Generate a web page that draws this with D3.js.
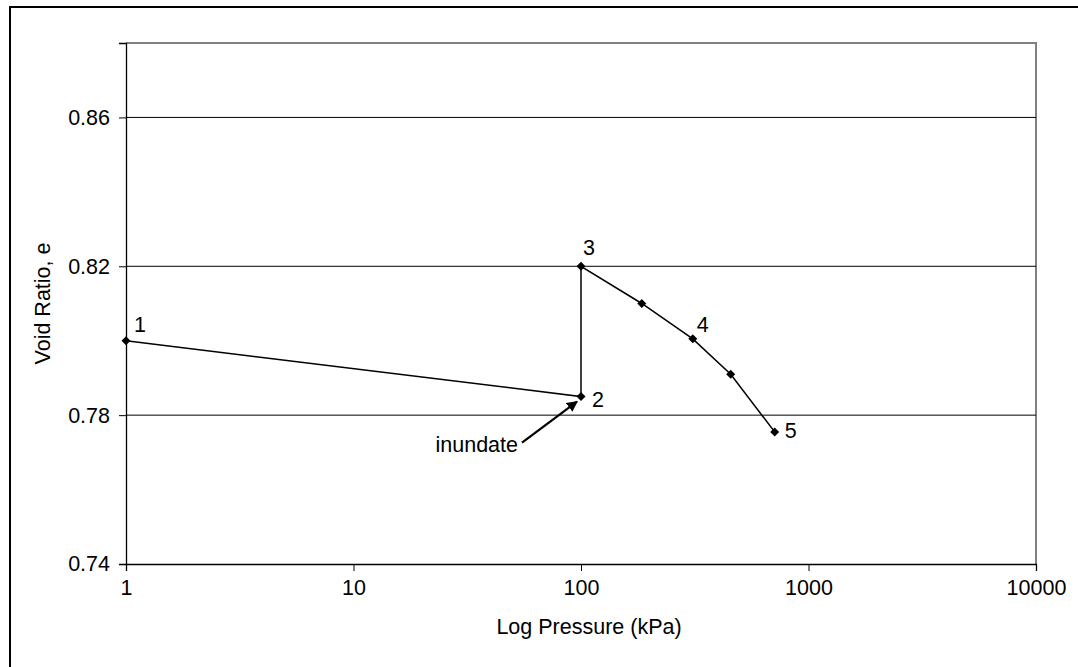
<!DOCTYPE html>
<html lang="en">

<head>
    <meta charset="UTF-8">
    <title>Void Ratio vs Log Pressure</title>
    <script type='text/javascript' src='https://d3js.org/d3.v7.min.js'></script>
    <style>
        body { margin: 0; background: #fff; }
        text { font-family: "Liberation Sans", Arial, sans-serif; fill: #000; }
    </style>
</head>

<body>
    <script>
        // data
        const pressure = [1, 100, 100, 185, 310, 455, 710];
        const voidRatio = [0.800, 0.785, 0.820, 0.810, 0.8005, 0.791, 0.7755];
        const pointLabels = ["1", "2", "3", "", "4", "", "5"];
        const xTicks = [1, 10, 100, 1000, 10000];
        const yTicks = [0.74, 0.78, 0.82, 0.86];

        const W = 1078, H = 667;
        const margin = { top: 43, right: 42, bottom: 103, left: 126 };
        const width = W - margin.left - margin.right;
        const height = H - margin.top - margin.bottom;
        const fs = "21.5px";

        var svg = d3.select('body').append("svg")
            .attr("width", W)
            .attr("height", H);

        // outer chart border (runs off the bottom/right)
        svg.append("rect")
            .attr("x", 10).attr("y", 7)
            .attr("width", W + 20).attr("height", H + 20)
            .attr("fill", "none").attr("stroke", "#000").attr("stroke-width", 2);

        var g = svg.append("g")
            .attr("transform", "translate(" + margin.left + "," + margin.top + ")");

        var x = d3.scaleLog().domain([1, 10000]).range([0, width]);
        var y = d3.scaleLinear().domain([0.74, 0.88]).range([height, 0]);

        // plot frame, top and right in gray
        g.append("path")
            .attr("d", "M0,0H" + width + "V" + height)
            .attr("fill", "none").attr("stroke", "#808080").attr("stroke-width", 2);

        // horizontal gridlines
        g.selectAll(".grid").data(yTicks.filter(function (d) { return d > 0.74; }))
            .enter().append("line")
            .attr("x1", 0).attr("x2", width)
            .attr("y1", function (d) { return y(d); })
            .attr("y2", function (d) { return y(d); })
            .attr("stroke", "#000").attr("stroke-width", 1);

        // X axis
        var xAxis = g.append("g")
            .attr("transform", "translate(0," + height + ")")
            .call(d3.axisBottom(x).tickValues(xTicks).tickFormat(d3.format("d")).tickSizeOuter(0).tickSize(7).tickPadding(9));

        // Y axis
        var yAxis = g.append("g")
            .call(d3.axisLeft(y).tickValues(yTicks).tickFormat(d3.format(".2f")).tickSizeOuter(0).tickSize(7).tickPadding(9));

        [xAxis, yAxis].forEach(function (a) {
            a.selectAll("text").style("font-size", fs).attr("font-family", null);
            a.selectAll("line").attr("stroke", "#000");
            a.select(".domain").attr("stroke", "#000").attr("stroke-width", 1.3);
        });

        // axis titles
        svg.append("text")
            .attr("x", margin.left + width / 2 + 8)
            .attr("y", 634)
            .attr("text-anchor", "middle")
            .style("font-size", fs)
            .text("Log Pressure (kPa)");

        svg.append("text")
            .attr("transform", "translate(50," + (margin.top + height / 2) + ") rotate(-90)")
            .attr("text-anchor", "middle")
            .style("font-size", fs)
            .text("Void Ratio, e");

        var pts = pressure.map(function (p, i) { return { p: p, e: voidRatio[i], label: pointLabels[i] }; });

        // the line
        var line = d3.line()
            .x(function (d) { return x(d.p); })
            .y(function (d) { return y(d.e); });

        g.append("path")
            .datum(pts)
            .attr("d", line)
            .attr("fill", "none").attr("stroke", "#000").attr("stroke-width", 1.5);

        // diamond markers
        g.selectAll(".pt").data(pts)
            .enter().append("path")
            .attr("transform", function (d) { return "translate(" + x(d.p) + "," + y(d.e) + ")"; })
            .attr("d", "M0,-4.5L4.5,0L0,4.5L-4.5,0Z")
            .attr("fill", "#000");

        // point numbers
        const labelOffset = { "1": [8, -9], "2": [11, 10], "3": [2, -11], "4": [4, -7], "5": [10, 6] };
        g.selectAll(".lbl").data(pts.filter(function (d) { return d.label; }))
            .enter().append("text")
            .attr("x", function (d) { return x(d.p) + labelOffset[d.label][0]; })
            .attr("y", function (d) { return y(d.e) + labelOffset[d.label][1]; })
            .style("font-size", fs)
            .text(function (d) { return d.label; });

        // inundate annotation with arrow pointing at point 2
        svg.append("defs").append("marker")
            .attr("id", "arrow")
            .attr("viewBox", "0 0 10 10")
            .attr("refX", 9).attr("refY", 5)
            .attr("markerWidth", 5).attr("markerHeight", 5)
            .attr("orient", "auto")
            .append("path").attr("d", "M0,0L10,5L0,10z").attr("fill", "#000");

        var tipX = x(100) - 4, tipY = y(0.785) + 5;
        g.append("line")
            .attr("x1", tipX - 55).attr("y1", tipY + 41)
            .attr("x2", tipX).attr("y2", tipY)
            .attr("stroke", "#000").attr("stroke-width", 2.2)
            .attr("marker-end", "url(#arrow)");

        g.append("text")
            .attr("x", tipX - 59).attr("y", tipY + 50)
            .attr("text-anchor", "end")
            .style("font-size", fs)
            .text("inundate");
    </script>
</body>

</html>
